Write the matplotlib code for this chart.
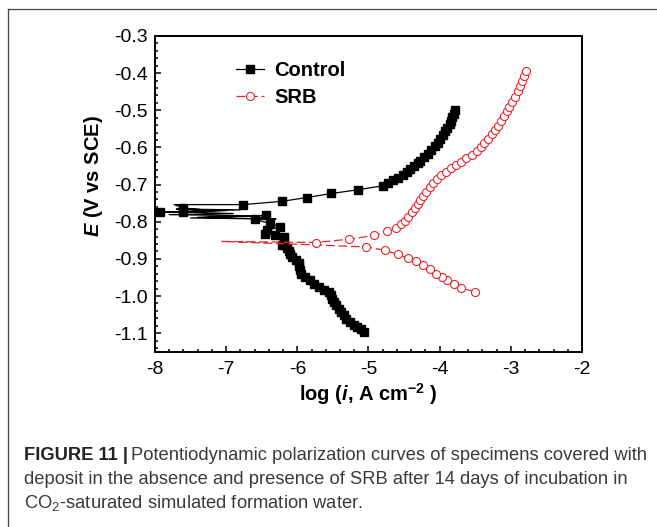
import numpy as np
import matplotlib
matplotlib.use("Agg")
import matplotlib.pyplot as plt
from matplotlib.lines import Line2D

plt.rcParams["font.family"] = ["Liberation Sans", "DejaVu Sans"]
plt.rcParams["mathtext.fontset"] = "custom"
plt.rcParams["mathtext.rm"] = "Liberation Sans"
plt.rcParams["mathtext.it"] = "Liberation Sans:italic"
plt.rcParams["mathtext.bf"] = "Liberation Sans:bold"
plt.rcParams["mathtext.bfit"] = "Liberation Sans:bold:italic"

# Control: cathodic branch, noisy region near Ecorr, anodic branch (scan order)
ctrl_cath_logi = [-5.06, -5.11, -5.16, -5.21, -5.26, -5.31, -5.35, -5.39, -5.42, -5.45,
                  -5.48, -5.51, -5.53, -5.55, -5.62, -5.70, -5.76, -5.82, -5.89, -5.95,
                  -5.96, -5.97, -5.98, -6.02, -6.08, -6.10, -6.11, -6.14, -6.22, -6.19,
                  -6.19, -6.32, -6.45, -6.42, -6.24, -6.38, -6.59, -6.44]
ctrl_cath_E = [-1.097, -1.090, -1.084, -1.077, -1.069, -1.061, -1.052, -1.043, -1.034, -1.025,
               -1.016, -1.007, -0.998, -0.990, -0.983, -0.976, -0.967, -0.958, -0.949, -0.940,
               -0.930, -0.920, -0.911, -0.903, -0.896, -0.888, -0.880, -0.872, -0.864, -0.852,
               -0.842, -0.837, -0.832, -0.822, -0.814, -0.805, -0.794, -0.783]
ctrl_noise_logi = [-6.9, -7.5, -6.3, -7.4, -6.6, -7.8, -6.9, -7.6, -7.0, -7.7, -6.8, -7.93,
                   -7.2, -7.60, -7.73, -6.76]
ctrl_noise_E = [-0.786, -0.790, -0.793, -0.788, -0.784, -0.781, -0.778, -0.774, -0.770, -0.766,
                -0.768, -0.775, -0.770, -0.763, -0.754, -0.754]
ctrl_noise_marked = [-7.93, -7.60, -6.76]
ctrl_anod_logi = [-6.21, -5.87, -5.52, -5.15, -4.79, -4.72, -4.65, -4.58, -4.52, -4.46,
                  -4.41, -4.36, -4.31, -4.27, -4.22, -4.17, -4.12, -4.07, -4.03, -3.99,
                  -3.95, -3.92, -3.89, -3.86, -3.84, -3.82, -3.80, -3.78]
ctrl_anod_E = [-0.745, -0.735, -0.724, -0.714, -0.703, -0.696, -0.689, -0.682, -0.674, -0.666,
               -0.658, -0.650, -0.643, -0.636, -0.627, -0.617, -0.607, -0.597, -0.588, -0.578,
               -0.567, -0.557, -0.547, -0.537, -0.528, -0.519, -0.509, -0.500]

# SRB
srb_cath_logi = [-3.51, -3.70, -3.80, -3.89, -3.97, -4.05, -4.13, -4.23, -4.33, -4.45,
                 -4.59, -4.77, -5.03]
srb_cath_E = [-0.988, -0.979, -0.969, -0.958, -0.949, -0.940, -0.928, -0.917, -0.907, -0.898,
              -0.888, -0.877, -0.868]
srb_ecorr_logi = [-7.06]
srb_ecorr_E = [-0.853]
srb_anod_logi = [-5.74, -5.27, -4.92, -4.74, -4.62, -4.54, -4.48, -4.44, -4.39, -4.35,
                 -4.31, -4.27, -4.23, -4.19, -4.14, -4.09, -4.04, -3.98, -3.91, -3.84,
                 -3.77, -3.70, -3.63, -3.55, -3.48, -3.42, -3.37, -3.32, -3.27, -3.22,
                 -3.18, -3.14, -3.10, -3.06, -3.02, -2.98, -2.94, -2.90, -2.87, -2.84,
                 -2.81, -2.78]
srb_anod_E = [-0.856, -0.847, -0.837, -0.826, -0.817, -0.807, -0.798, -0.787, -0.775, -0.764,
              -0.753, -0.742, -0.731, -0.719, -0.707, -0.695, -0.684, -0.674, -0.665, -0.656,
              -0.647, -0.638, -0.629, -0.620, -0.610, -0.599, -0.588, -0.577, -0.565, -0.553,
              -0.541, -0.528, -0.516, -0.503, -0.490, -0.477, -0.463, -0.449, -0.435, -0.421,
              -0.407, -0.393]

ctrl_x = np.array(ctrl_cath_logi + ctrl_noise_logi + ctrl_anod_logi)
ctrl_y = np.array(ctrl_cath_E + ctrl_noise_E + ctrl_anod_E)
n1 = len(ctrl_cath_logi)
ctrl_marks = list(range(n1)) + [n1 + i for i, v in enumerate(ctrl_noise_logi) if v in ctrl_noise_marked] \
    + list(range(n1 + len(ctrl_noise_logi), len(ctrl_x)))

srb_x = np.array(srb_cath_logi + srb_ecorr_logi + srb_anod_logi)
srb_y = np.array(srb_cath_E + srb_ecorr_E + srb_anod_E)
m1 = len(srb_cath_logi)
srb_marks = list(range(m1)) + list(range(m1 + 1, len(srb_x)))

fig = plt.figure(figsize=(6.57, 5.27), dpi=100)
ax = fig.add_axes([0.2359, 0.3326, 0.6499, 0.5991])

ax.plot(ctrl_x, ctrl_y, color="black", lw=0.9, marker="s", ms=5.3,
        markevery=ctrl_marks, label="Control")
ax.plot(srb_x, srb_y, color="#e8262b", lw=0.9, ls=(0, (7, 3)), marker="o", ms=5.8,
        mfc="white", mec="#e8262b", mew=0.8, markevery=srb_marks, label="SRB")

ax.set_xlim(-8, -2)
ax.set_ylim(-1.15, -0.3)
ax.set_xticks(np.arange(-8, -1.5, 1))
ax.set_yticks(np.arange(-1.1, -0.25, 0.1))
ax.set_yticklabels([f"{v:.1f}" for v in np.arange(-1.1, -0.25, 0.1)])
ax.set_xticklabels([f"{v:d}" for v in range(-8, -1)])
ax.xaxis.set_minor_locator(matplotlib.ticker.MultipleLocator(0.2))
ax.yaxis.set_minor_locator(matplotlib.ticker.MultipleLocator(0.02))
ax.tick_params(which="both", direction="in", width=1.1, labelsize=14)
ax.tick_params(which="major", length=4)
ax.tick_params(which="minor", length=2)
ax.tick_params(axis="x", pad=7)
ax.tick_params(axis="y", pad=5)
for s in ax.spines.values():
    s.set_linewidth(1.4)

ax.set_xlabel(r"log ($\mathbfit{i}$, A cm$^{\mathbf{-2}}$ )", fontsize=14.5,
              fontweight="bold", labelpad=2)
ax.set_ylabel(r"$\mathbfit{E}$ (V vs SCE)", fontsize=14.5, fontweight="bold",
              labelpad=7, y=0.557)

ax.legend(loc="upper left", bbox_to_anchor=(0.147, 0.978), frameon=False,
          handlelength=1.4, handletextpad=0.5, labelspacing=0.38,
          prop={"weight": "bold", "size": 14.5})

# outer frame (top and left edges)
fig.add_artist(Line2D([8 / 657, 1], [1 - 9 / 527, 1 - 9 / 527], color="#444444", lw=0.9,
                      transform=fig.transFigure))
fig.add_artist(Line2D([8 / 657, 8 / 657], [0, 1 - 9 / 527], color="#444444", lw=0.9,
                      transform=fig.transFigure))

# caption
cap_size = 13.2
x0 = 24 / 657
t = fig.text(x0, 1 - 455 / 527, "FIGURE 11 |", fontsize=cap_size, fontweight="bold",
             color="#222222", va="center")
fig.canvas.draw()
bb = t.get_window_extent()
fig.text(bb.x1 / fig.bbox.width + 0.005, 1 - 455 / 527,
         "Potentiodynamic polarization curves of specimens covered with",
         fontsize=cap_size, color="#3a3a3a", va="center")
fig.text(x0, 1 - 479 / 527,
         "deposit in the absence and presence of SRB after 14 days of incubation in",
         fontsize=cap_size, color="#3a3a3a", va="center")
fig.text(x0, 1 - 503 / 527, r"CO$_2$-saturated simulated formation water.",
         fontsize=cap_size, color="#3a3a3a", va="center")

fig.savefig("out.png", dpi=100)
